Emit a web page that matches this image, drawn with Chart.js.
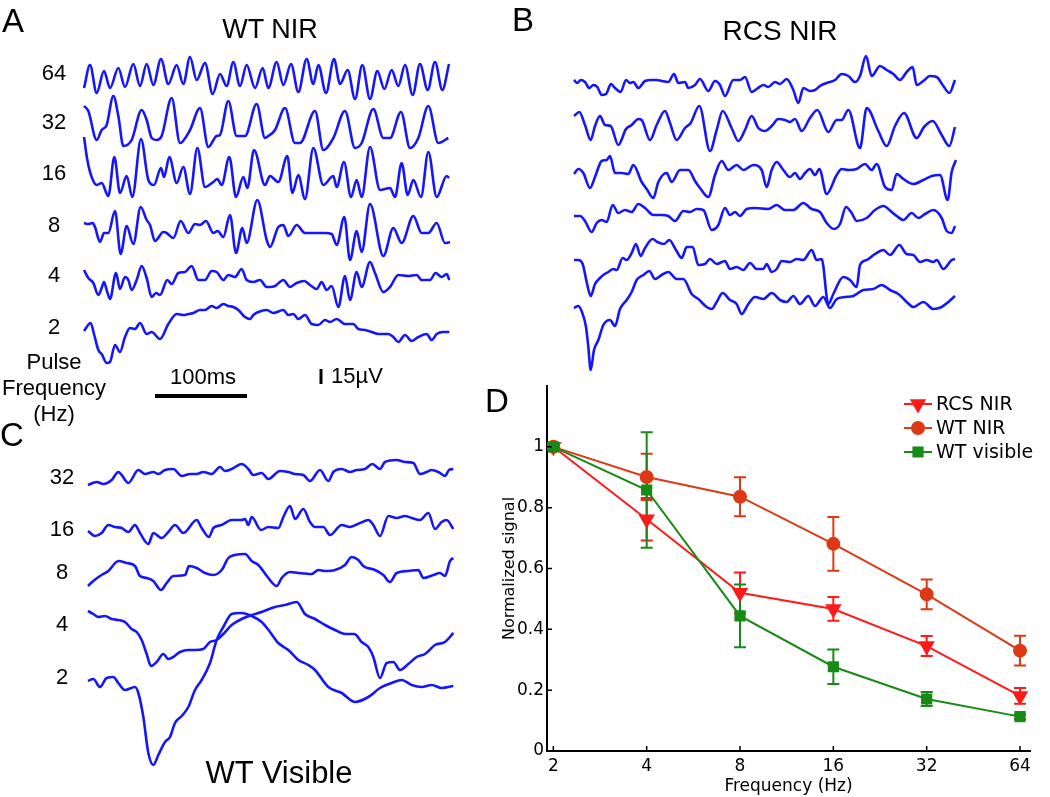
<!DOCTYPE html>
<html>
<head>
<meta charset="utf-8">
<script src="https://cdn.jsdelivr.net/npm/chart.js@4.4.1/dist/chart.umd.min.js"></script>
<style>
body { margin: 0; background: #fff; width: 1050px; height: 797px; position: relative; overflow: hidden;
       font-family: "Liberation Sans", Arial, sans-serif; }
canvas { position: absolute; }
.c { position: absolute; transform: translate(-50%, -50%); white-space: nowrap; line-height: 1; color: #000; }
.n { font-size: 22px; }
</style>
</head>
<body>
<canvas id="chartA" width="470" height="440" style="left:0;top:0"></canvas>
<canvas id="chartB" width="420" height="400" style="left:560px;top:0"></canvas>
<canvas id="chartC" width="400" height="360" style="left:70px;top:440px"></canvas>
<canvas id="chartD" width="550" height="427" style="left:500px;top:370px"></canvas>

<div class="c" style="left:13px;top:20px;font-size:33px">A</div>
<div class="c" style="left:270px;top:29px;font-size:27px">WT NIR</div>
<div class="c" style="left:523px;top:19px;font-size:33px">B</div>
<div class="c" style="left:780px;top:31px;font-size:28px">RCS NIR</div>
<div class="c" style="left:12px;top:434px;font-size:33px">C</div>
<div class="c" style="left:497px;top:400px;font-size:33px">D</div>
<div class="c" style="left:279px;top:772px;font-size:31px">WT Visible</div>

<div class="c n" style="left:54px;top:73px">64</div>
<div class="c n" style="left:54px;top:122px">32</div>
<div class="c n" style="left:54px;top:173px">16</div>
<div class="c n" style="left:54px;top:225px">8</div>
<div class="c n" style="left:54px;top:275px">4</div>
<div class="c n" style="left:54px;top:327px">2</div>
<div class="c n" style="left:54px;top:362px">Pulse</div>
<div class="c n" style="left:54px;top:388px">Frequency</div>
<div class="c n" style="left:54px;top:414px">(Hz)</div>
<div class="c n" style="left:203px;top:377px">100ms</div>
<div class="c n" style="left:357px;top:376px">15µV</div>

<div class="c n" style="left:62px;top:477px">32</div>
<div class="c n" style="left:62px;top:529px">16</div>
<div class="c n" style="left:62px;top:572px">8</div>
<div class="c n" style="left:62px;top:624px">4</div>
<div class="c n" style="left:62px;top:677px">2</div>

<script>
// ---- traces: [sample index, amplitude in µV], sampled at FS ----
const FS = 2760;

const a64 = [[0,-11],[18,12],[38,-16],[60,6],[78,-11],[103,9],[123,-10],[148,13],[168,-9],[188,13],[208,-8],[231,18],[253,-7],[278,12],[298,-7],[318,20],[338,-3],[363,14],[386,-17],[408,3],[428,-9],[448,15],[468,-9],[488,12],[513,-11],[536,9],[553,-11],[578,15],[598,-8],[621,13],[643,-15],[668,18],[688,-7],[703,12],[726,-16],[750,18],[768,-7],[791,7],[813,-22],[835,12],[858,-22],[880,6],[901,-12],[923,7],[943,-9],[963,12],[986,-18],[1008,13],[1031,-13],[1053,15],[1075,-13],[1095,13]];
const a32 = [[0,17],[13,12],[38,-17],[53,-7],[68,-2],[88,27],[103,7],[118,-23],[143,-17],[173,13],[188,3],[203,-15],[218,-17],[233,-13],[263,25],[288,-20],[318,-7],[348,15],[373,-24],[398,-13],[408,-12],[433,22],[458,-13],[483,-13],[518,19],[543,-15],[553,-13],[573,-7],[603,15],[633,-20],[648,-20],[693,12],[718,-27],[748,-15],[783,12],[813,-25],[833,-20],[868,14],[898,-15],[918,-15],[951,11],[978,-25],[1003,-15],[1033,17],[1063,-20],[1093,-15]];
const a16 = [[0,33],[10,10],[23,-7],[38,-15],[53,-13],[73,-26],[91,13],[108,-23],[128,-6],[145,-27],[171,31],[193,-10],[210,-15],[231,2],[240,-7],[256,13],[278,-13],[298,3],[318,-24],[340,22],[363,-17],[388,-12],[400,-9],[413,-15],[436,13],[456,-27],[478,-7],[490,-18],[510,20],[543,-15],[558,-6],[583,-12],[610,14],[625,-23],[643,-5],[663,-29],[688,22],[718,-15],[748,-6],[758,-17],[780,8],[801,-27],[818,-10],[833,-27],[858,23],[888,-20],[918,-18],[933,-27],[953,7],[971,-25],[988,-10],[1011,-27],[1033,18],[1058,-27],[1088,-6],[1095,-8]];
const a8 = [[0,5],[13,4],[26,5],[33,1],[48,-14],[60,-5],[73,-5],[93,17],[110,-26],[128,2],[148,-16],[170,21],[188,8],[198,3],[213,-13],[238,-4],[248,-5],[268,-10],[290,7],[313,-5],[333,4],[348,3],[366,7],[388,-5],[401,-3],[418,-9],[438,13],[456,-25],[475,0],[488,-15],[520,28],[548,-12],[558,-19],[583,1],[598,3],[613,-8],[638,3],[663,-5],[693,-5],[723,-5],[743,-6],[758,-17],[781,11],[798,-32],[818,-3],[833,-24],[858,24],[898,-28],[928,0],[953,-15],[988,12],[1013,-5],[1033,-5],[1058,5],[1083,-15],[1098,-14]];
const a4 = [[0,10],[13,2],[28,-3],[43,-15],[53,-8],[60,-2],[68,-10],[78,-19],[96,7],[108,-9],[123,3],[133,0],[143,-10],[158,0],[173,14],[188,2],[203,-17],[216,-13],[228,-15],[250,0],[263,-4],[283,7],[303,8],[323,14],[343,0],[363,0],[383,9],[398,8],[418,0],[433,5],[453,3],[473,11],[488,0],[508,-2],[528,0],[548,-7],[558,-7],[573,-6],[598,0],[618,-7],[638,-3],[661,-1],[678,-5],[698,-9],[713,-2],[728,-10],[743,-6],[763,-27],[783,4],[798,-20],[818,8],[833,-7],[858,18],[873,7],[898,-12],[918,-7],[943,5],[973,4],[998,5],[1013,0],[1038,0],[1055,7],[1073,3],[1088,6],[1096,0]];
const a2 = [[0,-4],[20,4],[30,-7],[43,-23],[53,-27],[68,-36],[78,-35],[93,-18],[108,-25],[123,-10],[138,-1],[153,-2],[168,4],[188,-7],[203,-5],[228,-12],[253,3],[278,13],[298,12],[313,13],[328,14],[348,17],[363,17],[383,21],[398,19],[418,23],[433,21],[448,20],[463,17],[483,10],[498,8],[508,12],[523,15],[548,17],[568,14],[598,17],[613,12],[628,13],[643,8],[663,12],[683,3],[703,2],[723,7],[738,5],[758,8],[783,3],[808,3],[823,-2],[843,-3],[863,-5],[883,-7],[913,-7],[928,-10],[943,-15],[963,-8],[983,-14],[1003,-10],[1028,-7],[1043,-13],[1058,-7],[1078,-5],[1096,-5]];

const b64 = [[0,3],[10,0],[20,3],[33,1],[46,-5],[58,-2],[70,-4],[83,-12],[96,-11],[111,-1],[123,-5],[140,-9],[156,3],[168,0],[178,1],[193,-5],[213,2],[233,3],[248,3],[263,2],[283,1],[300,9],[313,0],[333,1],[343,-5],[363,-2],[378,4],[403,-8],[423,2],[438,-2],[453,-13],[478,3],[498,3],[513,6],[533,-9],[548,-6],[568,-2],[583,-4],[603,1],[618,-1],[638,4],[658,-7],[673,-20],[688,-5],[708,-8],[723,-7],[738,-3],[758,0],[783,3],[803,9],[823,7],[843,1],[858,7],[876,27],[893,7],[918,17],[938,13],[958,9],[978,3],[998,11],[1016,16],[1028,-2],[1048,2],[1068,7],[1088,6],[1108,-3],[1126,-10],[1143,3]];
const b32 = [[0,12],[16,16],[33,3],[50,-12],[63,2],[78,12],[93,3],[110,2],[133,-17],[156,-1],[173,3],[193,9],[203,8],[228,-12],[248,3],[273,17],[288,5],[308,-12],[333,0],[350,5],[376,22],[408,-23],[428,-2],[446,17],[473,0],[493,-13],[513,-2],[533,12],[553,0],[573,-3],[593,2],[613,9],[633,8],[648,6],[663,9],[683,-3],[708,10],[730,18],[763,-4],[788,8],[803,8],[823,18],[858,-20],[878,20],[913,-3],[938,-18],[963,2],[990,15],[1028,-10],[1050,1],[1076,7],[1103,-7],[1126,-18],[1143,1]];
const b16 = [[0,3],[13,8],[28,4],[48,-11],[63,0],[83,16],[98,17],[108,21],[123,4],[143,4],[163,3],[178,12],[203,-5],[218,-12],[238,-21],[253,-5],[278,4],[293,-5],[318,7],[343,7],[363,-4],[380,-12],[403,-20],[423,2],[443,16],[463,7],[488,12],[508,7],[538,12],[563,7],[578,-10],[593,7],[608,15],[628,7],[648,0],[663,4],[678,-2],[693,4],[708,8],[723,2],[736,8],[758,-17],[788,2],[803,8],[823,7],[848,8],[873,13],[893,7],[908,13],[933,-10],[953,-13],[968,3],[988,-2],[1018,-7],[1048,-3],[1073,1],[1098,2],[1121,-23],[1133,5],[1146,17]];
const b8 = [[0,2],[18,2],[33,-3],[53,-14],[68,-5],[83,-2],[98,-4],[116,13],[133,5],[153,8],[173,6],[193,14],[213,10],[238,3],[263,3],[283,2],[303,-3],[328,7],[348,6],[368,9],[388,8],[413,-12],[433,-7],[453,10],[468,3],[483,6],[498,2],[518,9],[543,10],[583,9],[608,13],[633,8],[658,8],[688,15],[713,9],[738,6],[758,-5],[780,-11],[798,-6],[816,11],[833,5],[848,-3],[878,0],[903,8],[928,12],[953,6],[968,2],[988,-2],[1013,5],[1033,0],[1053,4],[1078,8],[1103,0],[1118,-13],[1133,-15],[1143,-8]];
const b4 = [[0,7],[13,7],[26,3],[38,-15],[50,-29],[63,-17],[78,-11],[88,-8],[103,-5],[118,-2],[128,-3],[146,9],[158,7],[173,14],[186,23],[200,11],[213,19],[236,28],[250,25],[270,23],[286,27],[306,17],[323,9],[338,20],[356,20],[373,2],[393,3],[408,8],[428,3],[453,6],[468,-2],[488,0],[508,-3],[528,4],[548,-2],[568,-2],[578,3],[593,-5],[608,-2],[623,6],[648,5],[668,8],[688,7],[713,17],[728,7],[743,8],[763,-37],[778,-27],[808,-10],[828,-13],[848,-20],[858,2],[878,7],[903,13],[928,17],[948,12],[976,22],[998,13],[1018,12],[1038,5],[1058,7],[1078,5],[1088,7],[1108,-2],[1133,7],[1143,8]];
const b2 = [[0,-1],[13,1],[26,-7],[36,-20],[43,-40],[50,-63],[60,-43],[73,-33],[88,-18],[108,-13],[123,-19],[138,-2],[158,7],[173,15],[188,27],[208,32],[226,36],[243,28],[263,32],[283,35],[308,28],[328,28],[353,13],[373,8],[398,0],[413,-2],[428,5],[446,14],[468,7],[488,3],[503,-7],[523,3],[543,10],[568,8],[593,14],[618,7],[638,5],[658,11],[678,3],[703,11],[723,1],[748,10],[768,-1],[788,8],[813,10],[838,11],[868,17],[898,18],[923,22],[948,17],[973,13],[998,5],[1018,0],[1048,5],[1078,-2],[1103,0],[1123,5],[1143,11]];

const c32 = [[0,-8],[26,-5],[46,-7],[71,-3],[91,5],[101,2],[121,-6],[151,7],[171,3],[196,5],[211,3],[231,7],[256,8],[281,1],[306,3],[326,3],[346,5],[371,3],[396,10],[411,6],[431,8],[461,13],[481,8],[496,2],[521,4],[541,-2],[576,6],[601,5],[621,3],[646,2],[666,-4],[696,7],[721,-4],[736,5],[761,8],[786,5],[806,7],[831,8],[853,13],[876,8],[891,15],[926,17],[951,15],[976,14],[996,3],[1016,5],[1031,7],[1051,5],[1071,1],[1083,7],[1096,8]];
const c16 = [[0,-1],[21,-6],[41,-3],[61,5],[81,3],[101,2],[121,-2],[141,5],[156,-3],[181,-14],[196,-3],[221,-8],[241,-2],[261,5],[286,-3],[326,10],[341,2],[363,-7],[376,2],[401,5],[431,10],[461,10],[471,11],[481,5],[491,13],[519,0],[541,3],[571,2],[586,13],[606,24],[621,11],[646,21],[666,8],[681,3],[706,3],[726,-5],[761,5],[786,3],[816,7],[841,10],[856,5],[876,-6],[901,14],[926,12],[951,14],[971,12],[996,10],[1021,17],[1041,1],[1061,8],[1076,10],[1096,1]];
const c8 = [[0,-13],[16,-8],[36,-3],[61,2],[91,12],[116,10],[141,7],[156,-3],[176,-5],[196,-8],[219,-17],[236,-10],[256,-3],[291,-2],[303,7],[326,5],[351,0],[376,-2],[401,3],[421,15],[441,18],[471,19],[491,12],[511,8],[541,-5],[566,-13],[581,-5],[606,1],[631,0],[671,-1],[691,3],[711,2],[741,3],[771,8],[791,16],[811,13],[826,7],[861,3],[886,-2],[906,-9],[926,0],[961,2],[991,3],[1006,-5],[1036,-2],[1056,0],[1071,-3],[1086,12],[1096,15]];
const c4 = [[0,16],[16,13],[31,10],[51,11],[71,8],[91,7],[111,5],[131,-2],[146,-5],[161,-13],[176,-27],[189,-39],[206,-35],[226,-27],[241,-32],[256,-30],[276,-25],[301,-23],[321,-23],[346,-22],[366,-15],[386,-13],[406,-7],[431,2],[461,8],[491,12],[521,15],[561,20],[591,22],[626,25],[651,13],[681,8],[711,2],[741,-3],[771,-7],[799,-7],[821,-15],[841,-20],[856,-30],[876,-51],[896,-36],[916,-35],[936,-43],[961,-37],[986,-30],[1011,-27],[1041,-18],[1071,-15],[1096,-6]];
const c2 = [[0,-1],[16,1],[36,-7],[56,2],[76,3],[91,-3],[111,-10],[141,-7],[151,-13],[166,-37],[181,-73],[196,-85],[211,-75],[231,-62],[246,-57],[261,-43],[281,-36],[301,-27],[321,-10],[341,0],[366,17],[386,40],[406,53],[431,66],[461,67],[491,64],[521,58],[546,48],[571,37],[601,30],[631,20],[661,15],[681,10],[721,-7],[761,-13],[801,-22],[841,-17],[876,-8],[911,-3],[941,0],[971,-5],[1001,-7],[1031,-5],[1061,-8],[1096,-6]];

// vertical spacing of the stacked traces (µV below the top of each panel)
const aOffsets = [-37, -83, -130, -188, -240, -287];
const bOffsets = [-33, -78, -127, -168, -217, -257];
const cOffsets = [-27, -80, -123, -177, -230];

// ---- panel D: normalized signal vs pulse frequency ----
const freqs = [2, 4, 8, 16, 32, 64];
const rcsNir = [1.0, 0.762, 0.52, 0.467, 0.345, 0.181];
const rcsNirErr = [0, 0.07, 0.067, 0.039, 0.033, 0.026];
const wtNir = [1.0, 0.901, 0.836, 0.681, 0.515, 0.33];
const wtNirErr = [0, 0.076, 0.064, 0.088, 0.049, 0.049];
const wtVisible = [1.0, 0.858, 0.444, 0.277, 0.171, 0.113];
const wtVisibleErr = [0, 0.19, 0.103, 0.057, 0.023, 0.008];
const yTicks = [0, 0.2, 0.4, 0.6, 0.8, 1];

const BLUE = '#1616fa';
const RED = '#ff1a1a';
const ORANGE = '#dc3a16';
const GREEN = '#178a17';

function traceChart(id, traces, offsets, xMax, yMin, pad, plugins) {
    return new Chart(document.getElementById(id), {
        type: 'line',
        data: {
            datasets: traces.map((tr, i) => ({
                data: tr.map(p => ({ x: p[0], y: p[1] + offsets[i] })),
                borderColor: BLUE,
                borderWidth: 2.6,
                pointRadius: 0,
                cubicInterpolationMode: 'monotone',
                fill: false,
                clip: false
            }))
        },
        options: {
            responsive: false,
            animation: false,
            devicePixelRatio: 1,
            events: [],
            layout: { padding: pad },
            plugins: { legend: { display: false }, tooltip: { enabled: false } },
            scales: {
                x: { type: 'linear', display: false, min: 0, max: xMax },
                y: { type: 'linear', display: false, min: yMin, max: 0 }
            }
        },
        plugins: plugins || []
    });
}

// 100 ms and 15 µV scale bars, placed with panel A's own scales
const scaleBars = {
    id: 'scaleBars',
    afterDraw(chart) {
        const { ctx } = chart;
        const x = chart.scales.x, y = chart.scales.y;
        ctx.save();
        ctx.fillStyle = '#000';
        const x0 = x.getPixelForValue(213), x1 = x.getPixelForValue(213 + 0.1 * FS);
        const yb = y.getPixelForValue(-356);
        ctx.fillRect(x0, yb - 2, x1 - x0, 4);
        const vx = x.getPixelForValue(711);
        const vy0 = y.getPixelForValue(-344), vy1 = y.getPixelForValue(-344 + 15);
        ctx.fillRect(vx - 1.5, vy1, 3, vy0 - vy1);
        ctx.restore();
    }
};

traceChart('chartA', [a64, a32, a16, a8, a4, a2], aOffsets, 1098, -340,
    { left: 84, right: 20, top: 40, bottom: 60 }, [scaleBars]);
traceChart('chartB', [b64, b32, b16, b8, b4, b2], bOffsets, 1149, -330,
    { left: 14, right: 23, top: 50, bottom: 20 });
traceChart('chartC', [c32, c16, c8, c4, c2], cOffsets, 1095, -340,
    { left: 18, right: 17, top: 10, bottom: 10 });

const errorBars = {
    id: 'errorBars',
    beforeDatasetsDraw(chart) {
        const { ctx } = chart;
        const x = chart.scales.x, y = chart.scales.y;
        chart.data.datasets.forEach(ds => {
            ctx.save();
            ctx.strokeStyle = ds.borderColor;
            ctx.lineWidth = 2;
            ds.data.forEach((p, i) => {
                const e = ds.errors[i];
                if (!e) return;
                const px = x.getPixelForValue(p.x);
                const top = y.getPixelForValue(p.y + e), bot = y.getPixelForValue(p.y - e);
                ctx.beginPath();
                ctx.moveTo(px, top); ctx.lineTo(px, bot);
                ctx.moveTo(px - 6, top); ctx.lineTo(px + 6, top);
                ctx.moveTo(px - 6, bot); ctx.lineTo(px + 6, bot);
                ctx.stroke();
            });
            ctx.restore();
        });
    }
};

const inwardTicks = {
    id: 'inwardTicks',
    afterDraw(chart) {
        const { ctx, chartArea } = chart;
        const x = chart.scales.x, y = chart.scales.y;
        ctx.save();
        ctx.strokeStyle = '#000';
        ctx.lineWidth = 1.5;
        ctx.beginPath();
        freqs.forEach(f => {
            const px = x.getPixelForValue(Math.log2(f));
            ctx.moveTo(px, chartArea.bottom); ctx.lineTo(px, chartArea.bottom - 5);
        });
        yTicks.forEach(v => {
            const py = y.getPixelForValue(v);
            ctx.moveTo(chartArea.left, py); ctx.lineTo(chartArea.left + 5, py);
        });
        ctx.stroke();
        ctx.restore();
    }
};

const lineLegend = {
    id: 'lineLegend',
    afterDraw(chart) {
        const { ctx, chartArea } = chart;
        const x0 = chartArea.right - 126;
        ctx.save();
        ctx.font = '19px "DejaVu Sans"';
        ctx.textBaseline = 'middle';
        ctx.textAlign = 'left';
        chart.data.datasets.forEach((ds, i) => {
            const yy = chartArea.top + 18 + i * 24;
            ctx.strokeStyle = ds.borderColor;
            ctx.fillStyle = ds.borderColor;
            ctx.lineWidth = 2;
            ctx.beginPath();
            ctx.moveTo(x0, yy); ctx.lineTo(x0 + 28, yy);
            ctx.stroke();
            Chart.helpers.drawPoint(ctx, {
                pointStyle: ds.pointStyle, rotation: ds.rotation || 0,
                radius: ds.pointRadius, borderWidth: 1
            }, x0 + 14, yy);
            ctx.fillStyle = '#000';
            ctx.fillText(ds.label, x0 + 32, yy + 1);
        });
        ctx.restore();
    }
};

const tickFont = { family: 'DejaVu Sans', size: 17 };

new Chart(document.getElementById('chartD'), {
    type: 'line',
    data: {
        datasets: [
            {
                label: 'RCS NIR',
                data: freqs.map((f, i) => ({ x: Math.log2(f), y: rcsNir[i] })),
                errors: rcsNirErr,
                borderColor: RED, backgroundColor: RED,
                pointBackgroundColor: RED, pointBorderColor: RED,
                pointStyle: 'triangle', rotation: 180, pointRadius: 7.5,
                borderWidth: 2, tension: 0, order: 2
            },
            {
                label: 'WT NIR',
                data: freqs.map((f, i) => ({ x: Math.log2(f), y: wtNir[i] })),
                errors: wtNirErr,
                borderColor: ORANGE, backgroundColor: ORANGE,
                pointBackgroundColor: ORANGE, pointBorderColor: ORANGE,
                pointStyle: 'circle', pointRadius: 6,
                borderWidth: 2, tension: 0, order: 1
            },
            {
                label: 'WT visible',
                data: freqs.map((f, i) => ({ x: Math.log2(f), y: wtVisible[i] })),
                errors: wtVisibleErr,
                borderColor: GREEN, backgroundColor: GREEN,
                pointBackgroundColor: GREEN, pointBorderColor: GREEN,
                pointStyle: 'rect', pointRadius: 6.5,
                borderWidth: 2, tension: 0, order: 0
            }
        ]
    },
    options: {
        responsive: false,
        animation: false,
        devicePixelRatio: 1,
        events: [],
        layout: { padding: { top: 16, right: 20, left: 0, bottom: 0 } },
        plugins: { legend: { display: false }, tooltip: { enabled: false } },
        scales: {
            x: {
                type: 'linear',
                min: 0.932,
                max: 6.107,
                afterBuildTicks: s => { s.ticks = freqs.map(f => ({ value: Math.log2(f) })); },
                afterFit: s => { s.height = 46; },
                ticks: {
                    callback: v => String(Math.pow(2, v)),
                    font: tickFont, color: '#000', padding: 5, maxRotation: 0, autoSkip: false
                },
                grid: { display: false, drawTicks: false },
                border: { display: true, color: '#000', width: 2 },
                title: { display: true, text: 'Frequency (Hz)', font: tickFont, color: '#000', padding: 0 }
            },
            y: {
                type: 'linear',
                min: 0,
                max: 1.2,
                afterBuildTicks: s => { s.ticks = yTicks.map(v => ({ value: v })); },
                afterFit: s => { s.width = 47; },
                ticks: {
                    callback: v => v === 0 ? '0' : v === 1 ? '1' : v.toFixed(1),
                    font: tickFont, color: '#000', padding: 3
                },
                grid: { display: false, drawTicks: false },
                border: { display: true, color: '#000', width: 2 },
                title: { display: true, text: 'Normalized signal', font: { family: 'DejaVu Sans', size: 16 }, color: '#000', padding: 0 }
            }
        }
    },
    plugins: [errorBars, inwardTicks, lineLegend]
});
</script>
</body>
</html>
